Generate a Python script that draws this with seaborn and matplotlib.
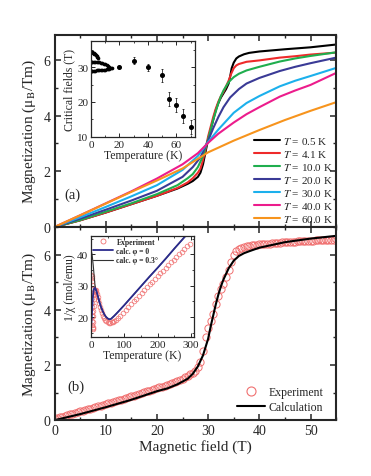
import numpy as np
import pandas as pd
import matplotlib
matplotlib.use("Agg")
import matplotlib.pyplot as plt
from matplotlib.ticker import MultipleLocator
from matplotlib.lines import Line2D
import seaborn as sns

sns.set_style("ticks")
plt.rcParams['font.family'] = ['Liberation Serif', 'DejaVu Serif']
plt.rcParams['mathtext.fontset'] = 'stix'

# ---------------- panel (a): M(H) at several temperatures ----------------
temps_labels = ["0.5", "4.1", "10.0", "20.0", "30.0", "40.0", "60.0"]
colors = ["#000000", "#ee2a2a", "#1fae4e", "#3a3a96", "#1cb0ec", "#ec1c8c", "#f7941d"]

h_05 = [0, 5, 10, 15, 20, 24, 26, 27, 28, 28.5, 29, 29.5, 30, 30.5, 31, 31.5, 32, 32.5, 33, 33.5, 34, 34.3, 34.6, 35, 35.5, 36, 37, 38, 40, 45, 50, 55]
m_05 = [0, 0.24, 0.52, 0.82, 1.12, 1.38, 1.55, 1.65, 1.8, 1.95, 2.25, 2.7, 3.15, 3.5, 3.85, 4.2, 4.45, 4.65, 4.8, 4.95, 5.15, 5.4, 5.7, 5.9, 6.05, 6.12, 6.2, 6.25, 6.3, 6.38, 6.45, 6.55]

h_41 = [0, 5, 10, 15, 20, 24, 26, 27, 28, 28.5, 29, 29.5, 30, 30.5, 31, 31.5, 32, 32.5, 33, 33.5, 34, 34.5, 35, 35.5, 36, 37.5, 40, 44, 47, 50, 55]
m_41 = [0, 0.24, 0.52, 0.82, 1.12, 1.4, 1.6, 1.75, 1.95, 2.1, 2.4, 2.8, 3.25, 3.6, 3.95, 4.25, 4.5, 4.7, 4.85, 5.05, 5.25, 5.5, 5.7, 5.8, 5.85, 5.93, 5.98, 6.08, 6.13, 6.19, 6.26]

h_10 = [0, 5, 10, 15, 20, 24, 26, 27, 28, 29, 29.5, 30, 30.5, 31, 31.5, 32, 32.5, 33, 34, 35, 36, 37.5, 40, 44, 47, 50, 55]
m_10 = [0, 0.25, 0.55, 0.85, 1.18, 1.5, 1.75, 1.9, 2.15, 2.55, 2.85, 3.15, 3.5, 3.85, 4.15, 4.45, 4.7, 4.9, 5.2, 5.38, 5.5, 5.62, 5.75, 5.94, 6.05, 6.14, 6.27]

h_20 = [0, 5, 10, 15, 20, 25, 27, 28.5, 30, 31, 32, 33, 34.3, 36, 37.5, 40, 44, 47, 50, 55]
m_20 = [0, 0.3, 0.62, 0.95, 1.3, 1.8, 2.15, 2.5, 3.1, 3.55, 3.95, 4.3, 4.65, 4.95, 5.15, 5.35, 5.6, 5.75, 5.88, 6.08]

h_30 = [0, 5, 10, 15, 20, 25, 28, 30, 32, 35, 37.5, 40, 44, 47, 50, 55]
m_30 = [0, 0.35, 0.72, 1.1, 1.5, 2.05, 2.55, 3.05, 3.5, 4.1, 4.45, 4.7, 5.05, 5.25, 5.42, 5.71]

h_40 = [0, 5, 10, 15, 20, 25, 28, 30, 32, 35, 37.5, 40, 44, 47, 50, 55]
m_40 = [0, 0.42, 0.85, 1.28, 1.74, 2.25, 2.65, 3.02, 3.35, 3.75, 4.05, 4.3, 4.68, 4.9, 5.1, 5.53]

h_60 = [0, 5, 10, 15, 20, 25, 30, 35, 40, 45, 50, 55]
m_60 = [0, 0.42, 0.84, 1.26, 1.67, 2.1, 2.68, 3.1, 3.48, 3.84, 4.17, 4.48]

# inset (a): critical fields vs temperature
t_upper = [0.5, 1, 1.5, 2, 2.5, 3, 3.5, 4, 4.5, 5]
hc_upper = [34.3, 34.2, 34.1, 34.0, 33.9, 33.7, 33.5, 33.3, 33.0, 32.7]
t_middle = [0.5, 1, 2, 3, 4, 5, 6, 7, 8, 9, 10, 11, 12, 13]
hc_middle = [31.5, 31.5, 31.5, 31.5, 31.5, 31.5, 31.4, 31.3, 31.2, 31.0, 30.8, 30.5, 30.2, 29.9]
t_lower = [0.5, 1, 2, 3, 4, 5, 6, 7, 8, 9, 10, 11, 12, 13, 14, 15]
hc_lower = [29.0, 29.0, 29.0, 29.0, 29.1, 29.1, 29.1, 29.2, 29.2, 29.3, 29.3, 29.4, 29.5, 29.6, 29.7, 29.8]
t_err = [20, 30, 40, 50, 55, 60, 65, 70]
hc_err = [30.0, 31.9, 30.0, 27.6, 20.9, 19.1, 15.9, 12.8]
hc_errbar = [0.3, 1.0, 1.0, 2.0, 2.0, 2.0, 2.0, 2.0]

# ---------------- panel (b): experiment vs calculation ----------------
h_exp = np.arange(0, 55.01, 0.5)
m_exp = [0.05, 0.08, 0.10, 0.13, 0.16, 0.18, 0.21, 0.24, 0.26, 0.29, 0.32,
         0.34, 0.37, 0.40, 0.42, 0.45, 0.48, 0.50, 0.53, 0.55, 0.58,
         0.61, 0.63, 0.66, 0.69, 0.72, 0.74, 0.77, 0.80, 0.83, 0.86,
         0.89, 0.92, 0.95, 0.98, 1.01, 1.04, 1.07, 1.10, 1.13, 1.16,
         1.19, 1.22, 1.25, 1.28, 1.31, 1.35, 1.38, 1.42, 1.46, 1.50,
         1.55, 1.60, 1.66, 1.72, 1.80, 1.92, 2.10, 2.50, 3.00, 3.35,
         3.60, 3.85, 4.20, 4.50, 4.75, 4.95, 5.20, 5.45, 5.75, 6.00,
         6.12, 6.20, 6.25, 6.28, 6.30, 6.32, 6.34, 6.35, 6.36, 6.37,
         6.38, 6.39, 6.39, 6.40, 6.41, 6.42, 6.42, 6.43, 6.44, 6.45,
         6.45, 6.46, 6.47, 6.47, 6.48, 6.49, 6.49, 6.50, 6.50, 6.51,
         6.51, 6.52, 6.52, 6.53, 6.53, 6.53, 6.54, 6.54, 6.54, 6.55]

h_calc = [0, 5, 10, 15, 20, 22, 24, 26, 27, 28, 29, 30, 30.5, 31, 31.5, 32, 32.5, 33, 34, 35, 36, 37, 38, 40, 45, 50, 55]
m_calc = [0, 0.22, 0.47, 0.74, 1.05, 1.15, 1.3, 1.5, 1.68, 1.95, 2.35, 2.95, 3.4, 3.8, 4.2, 4.55, 4.85, 5.1, 5.5, 5.78, 5.95, 6.05, 6.12, 6.25, 6.45, 6.58, 6.68]

# inset (b): inverse susceptibility
t_chi_exp = [1.8, 2.0, 2.2, 2.4, 2.6, 2.8, 3.0, 3.2, 3.4, 3.6, 3.8, 4.0, 4.3, 4.6, 5, 5.5, 6, 6.5, 7, 7.5, 8, 9, 10, 11, 12, 13, 14, 16, 18, 20, 22, 24, 27, 30, 33, 36, 39, 42, 46, 50, 54, 58, 62, 66, 70,
             75, 80, 88, 96, 104, 112, 120, 128, 136, 144, 152, 160, 168, 176, 184, 192, 200, 208, 216, 224, 232, 240, 248, 256, 264, 272, 280, 288, 296]
chi_exp = [33.5, 33.0, 32.3, 31.4, 30.3, 29.0, 27.6, 26.1, 24.6, 23.1, 21.6, 20.2, 18.8, 17.6, 16.5, 16.2, 17.0, 18.5, 20.2, 22.0, 23.6, 25.8, 27.3, 28.2, 28.6, 28.7, 28.6, 28.1, 27.3, 26.4, 25.5, 24.6, 23.3, 22.2, 21.2, 20.4, 19.7, 19.2, 18.7, 18.4, 18.2, 18.2, 18.3, 18.5, 18.8,
           19.2, 19.7, 20.5, 21.4, 22.3, 23.2, 24.1, 25.0, 25.9, 26.8, 27.7, 28.6, 29.5, 30.4, 31.2, 32.1, 33.0, 33.9, 34.8, 35.6, 36.5, 37.4, 38.2, 39.1, 40.0, 40.8, 41.7, 42.5, 43.4]
t_calc0 = [0, 2, 4, 6, 8, 10, 12, 15, 20, 25, 30, 35, 40, 45, 50, 55, 60, 70, 80, 100, 125, 150, 175, 200, 225, 250, 275, 290]
chi_calc0 = [16.0, 19.0, 23.0, 26.5, 28.5, 29.2, 29.3, 28.8, 27.0, 25.0, 23.3, 22.0, 20.9, 20.1, 19.6, 19.3, 19.4, 20.4, 21.5, 23.8, 26.8, 29.8, 32.8, 35.7, 38.7, 41.8, 44.8, 46.6]
t_calc03 = [0, 1, 2, 3, 4, 5, 6, 7, 8, 9, 10, 11, 12, 13, 14, 15, 17, 20, 25, 30, 35, 40, 45, 50, 55, 60, 70, 80, 100, 125, 150, 175, 200, 225, 250, 275, 290]
chi_calc03 = [40.5, 40.8, 40.7, 40.2, 39.5, 38.5, 37.5, 36.5, 35.3, 34.0, 32.8, 31.6, 30.5, 29.6, 29.0, 28.6, 28.1, 27.0, 25.0, 23.3, 22.0, 20.9, 20.1, 19.6, 19.3, 19.4, 20.4, 21.5, 23.8, 26.8, 29.8, 32.8, 35.7, 38.7, 41.8, 44.8, 46.6]

# ---------------- figure ----------------
fig = plt.figure(figsize=(3.71, 4.77), dpi=100)
axA = fig.add_axes([0.147, 0.522, 0.759, 0.403])
axB = fig.add_axes([0.147, 0.117, 0.759, 0.405])

def style_main(ax):
    for s in ax.spines.values():
        s.set_linewidth(1.5)
    ax.tick_params(which='both', direction='in', top=True, right=True, labelsize=10, pad=3)
    ax.tick_params(which='major', length=4.5, width=1.1)
    ax.tick_params(which='minor', length=2.5, width=1.0)
    ax.xaxis.set_major_locator(MultipleLocator(10))
    ax.xaxis.set_minor_locator(MultipleLocator(5))
    ax.yaxis.set_major_locator(MultipleLocator(2))
    ax.yaxis.set_minor_locator(MultipleLocator(1))
    ax.set_xlim(0, 55)

series = [(h_05, m_05), (h_41, m_41), (h_10, m_10), (h_20, m_20), (h_30, m_30), (h_40, m_40), (h_60, m_60)]
for (hh, mm), lab, c in zip(series, temps_labels, colors):
    sns.lineplot(x=hh, y=mm, ax=axA, color=c, lw=1.5, label=rf"$T$ = {lab} K",
                 estimator=None, sort=False)
style_main(axA)
axA.set_ylim(0, 6.9)
axA.tick_params(labelbottom=False)
axA.set_xlabel("")
axA.set_ylabel("Magnetization (μ$_\\mathrm{B}$/Tm)", fontsize=11, labelpad=4)
axA.legend(loc='lower right', frameon=False, fontsize=8, handlelength=2.3,
           handletextpad=0.3, labelspacing=0.18, borderaxespad=0.15, borderpad=0.1)
axA.text(0.035, 0.17, "(a)", transform=axA.transAxes, fontsize=10.5, va='center')

# panel b
sns.lineplot(x=h_exp, y=m_exp, ax=axB, marker='o', linestyle='', markersize=5.2,
             markerfacecolor='none', markeredgecolor='#f07070', markeredgewidth=0.7,
             color='#f07070', estimator=None, sort=False, legend=False)
sns.lineplot(x=h_calc, y=m_calc, ax=axB, color='black', lw=1.5, estimator=None, sort=False, legend=False)
style_main(axB)
axB.set_ylim(0, 7.0)
axB.set_xlabel("Magnetic field (T)", fontsize=11, labelpad=1)
axB.set_ylabel("Magnetization (μ$_\\mathrm{B}$/Tm)", fontsize=11, labelpad=4)
handlesB = [Line2D([], [], marker='o', ls='', markersize=6.5, markerfacecolor='none',
                   markeredgecolor='#f07070', markeredgewidth=0.8),
            Line2D([], [], color='black', lw=1.5)]
axB.legend(handlesB, ["Experiment", "Calculation"], loc='lower right', bbox_to_anchor=(0.96, 0.03),
           frameon=False, fontsize=8.5, handlelength=2.4, handletextpad=0.3,
           labelspacing=0.25, borderaxespad=0.0, borderpad=0.1)
axB.text(0.047, 0.176, "(b)", transform=axB.transAxes, fontsize=10.5, va='center')

# inset (a)
insA = fig.add_axes([0.245, 0.711, 0.280, 0.201])
for tt, hc in [(t_upper, hc_upper), (t_middle, hc_middle), (t_lower, hc_lower)]:
    sns.scatterplot(x=tt, y=hc, ax=insA, color='black', s=7, linewidth=0, legend=False)
insA.errorbar(t_err, hc_err, yerr=hc_errbar, fmt='o', color='black', markersize=2.6,
              elinewidth=0.5, capsize=1.0, capthick=0.5)
insA.set_xlim(0, 73)
insA.set_ylim(10, 37.5)
insA.xaxis.set_major_locator(MultipleLocator(20))
insA.xaxis.set_minor_locator(MultipleLocator(10))
insA.yaxis.set_major_locator(MultipleLocator(10))
insA.yaxis.set_minor_locator(MultipleLocator(5))
insA.set_xlabel("Temperature (K)", fontsize=8.5, labelpad=0)
insA.set_ylabel("Critical fields (T)", fontsize=8.5, labelpad=1)

# inset (b)
insB = fig.add_axes([0.245, 0.291, 0.277, 0.212])
sns.lineplot(x=t_chi_exp, y=chi_exp, ax=insB, marker='o', linestyle='', markersize=3.4,
             markerfacecolor='none', markeredgecolor='#f07070', markeredgewidth=0.5,
             color='#f07070', estimator=None, sort=False, legend=False)
sns.lineplot(x=t_calc03, y=chi_calc03, ax=insB, color='#333333', lw=0.8, estimator=None, sort=False, legend=False)
sns.lineplot(x=t_calc0, y=chi_calc0, ax=insB, color='#2b2b8c', lw=1.3, estimator=None, sort=False, legend=False)
insB.set_xlim(0, 308)
insB.set_ylim(13.6, 45.8)
insB.xaxis.set_major_locator(MultipleLocator(100))
insB.xaxis.set_minor_locator(MultipleLocator(50))
insB.yaxis.set_major_locator(MultipleLocator(10))
insB.yaxis.set_minor_locator(MultipleLocator(5))
insB.set_xlabel("Temperature (K)", fontsize=8.5, labelpad=0)
insB.set_ylabel("1/χ (mol/emu)", fontsize=8.5, labelpad=1)
handlesI = [Line2D([], [], marker='o', ls='', markersize=3.6, markerfacecolor='none',
                   markeredgecolor='#f07070', markeredgewidth=0.6),
            Line2D([], [], color='#2b2b8c', lw=1.3),
            Line2D([], [], color='#333333', lw=0.8)]
insB.legend(handlesI, ["Experiment", "calc. φ = 0", "calc. φ = 0.3°"], loc='upper left',
            bbox_to_anchor=(0.0, 1.0), frameon=False, prop={'size': 5.5, 'weight': 'bold'},
            handlelength=2.6, handletextpad=0.5, labelspacing=0.15, borderaxespad=0.15, borderpad=0.1)

for ins in (insA, insB):
    for s in ins.spines.values():
        s.set_linewidth(0.9)
    ins.tick_params(which='both', direction='in', top=True, right=True, labelsize=8, pad=2)
    ins.tick_params(which='major', length=3, width=0.7)
    ins.tick_params(which='minor', length=1.6, width=0.6)
    ins.set_facecolor('white')

fig.savefig("out.png", dpi=100)
